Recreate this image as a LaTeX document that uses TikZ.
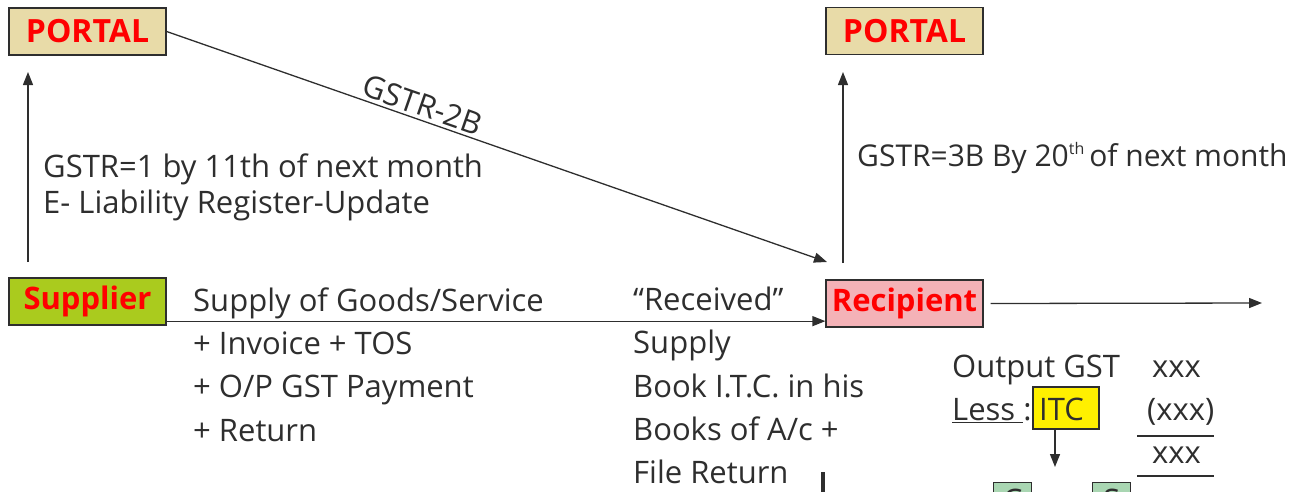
\documentclass[tikz,border=0pt]{standalone}
\usepackage{fontspec}
\setmainfont{Open Sans}
\usetikzlibrary{arrows.meta}
\definecolor{ink}{HTML}{2E2E2E}
\definecolor{portalfill}{HTML}{E8DBA8}
\definecolor{supfill}{HTML}{AACB1E}
\definecolor{recfill}{HTML}{F4B2B7}
\definecolor{itcfill}{HTML}{FFF000}
\definecolor{taxfill}{HTML}{A9D6B2}
\begin{document}
\begin{tikzpicture}[x=1pt, y=-1pt,
  every node/.style={text=ink},
  txt/.style={anchor=base west, inner sep=0pt, font=\fontsize{31}{36}\selectfont},
  entity/.style={draw=ink, line width=1.3pt, inner sep=0pt, minimum width=157pt,
    minimum height=47pt, text=red, font=\fontsize{31}{36}\selectfont\bfseries},
  flow/.style={draw=ink, line width=1.3pt, -{Triangle[length=13pt,width=10pt]}},
  rule/.style={draw=ink, line width=1.3pt},
  cell/.style={draw=ink, line width=1.2pt, inner sep=0pt},
  letter/.style={anchor=north, inner sep=0pt, font=\fontsize{31}{36}\selectfont}]
\useasboundingbox (0,0) rectangle (1308,491);
\clip (0,0) rectangle (1308,491);

% entities
\node[entity, fill=portalfill, font=\fontsize{32}{36}\selectfont\bfseries] (portalL) at (87.5,31.5) {PORTAL};
\node[entity, fill=portalfill, font=\fontsize{32}{36}\selectfont\bfseries] (portalR) at (904.5,31) {PORTAL};
\node[entity, fill=supfill] (sup) at (87.5,301.5) {Supplier};
\node[entity, fill=recfill] (rec) at (904.5,303.5) {Recipient};

% free arrow ends
\coordinate (upLs) at (28,262);
\coordinate (upLe) at (28,72);
\coordinate (upRs) at (843,263);
\coordinate (upRe) at (843,72);
\coordinate (diagE) at (827,262);
\coordinate (outE) at (1262,303);

% connectors
\draw[flow] (upLs) -- (upLe);
\draw[flow] (upRs) -- (upRe);
\draw[flow] (portalL.east) -- node[pos=0.38, sloped, above, inner sep=3pt, font=\fontsize{31}{36}\selectfont] (g2b) {GSTR-2B} (diagE);
\draw[flow] ([yshift=4.5pt]sup.south east) -- ([yshift=6.5pt]rec.south west);
\draw[flow] ([xshift=7pt]rec.east) -- (outE);

% supplier side texts
\node[txt] (t1) at (43,177) {GSTR=1 by 11th of next month};
\node[txt] (t2) at (43,213) {E- Liability Register-Update};
\node[txt, font=\fontsize{30}{36}\selectfont] (t3) at (857,166) {GSTR=3B By 20\raisebox{12pt}{\fontsize{16}{16}\selectfont th}\,of next month};
\node[txt] (s1) at (193,311) {Supply of Goods/Service};
\node[txt] (s2) at (193,354) {+ Invoice + TOS};
\node[txt] (s3) at (193,397) {+ O/P GST Payment};
\node[txt] (s4) at (193,441) {+ Return};

% recipient side texts
\node[txt] (r1) at (633,310) {“Received”};
\node[txt] (r2) at (633,353) {Supply};
\node[txt] (r3) at (633,397) {Book I.T.C. in his};
\node[txt] (r4) at (633,440) {Books of A/c +};
\node[txt] (r5) at (633,483) {File Return};

% set-off working
\node[txt] (og) at (952,377) {Output GST};
\node[txt] (ogv) at (1152,377) {xxx};
\node[txt] (less) at (952,420) {\underline{Less }:};
\node[cell, fill=itcfill, minimum width=66pt, minimum height=42pt] (itc) at (1066,408) {};
\node[txt] (itct) at (1039,420) {ITC};
\node[txt] (itcv) at (1147,420) {(xxx)};
\coordinate (r1a) at (1137,436);
\coordinate (r1b) at (1214,436);
\draw[rule] (r1a) -- (r1b);
\node[txt] (net) at (1152,463) {xxx};
\coordinate (r2a) at (1137,476);
\coordinate (r2b) at (1214,476);
\draw[rule] (r2a) -- (r2b);
\coordinate (itcE) at (1055,467);
\draw[flow] (itc.south -| itcE) -- (itcE);

% boxes and bar running past the lower edge
\node[cell, fill=taxfill, minimum width=38pt, minimum height=40pt, anchor=north west] (cg) at (993,482) {};
\node[letter] (cgt) at ([yshift=-7pt]cg.north) {C};
\node[cell, fill=taxfill, minimum width=38pt, minimum height=40pt, anchor=north west] (sg) at (1092,482) {};
\node[letter] (sgt) at ([yshift=-7pt]sg.north) {S};
\coordinate (barT) at (823,472);
\coordinate (barB) at (823,500);
\draw[ink, line width=4pt] (barT) -- (barB);
\end{tikzpicture}
\end{document}
